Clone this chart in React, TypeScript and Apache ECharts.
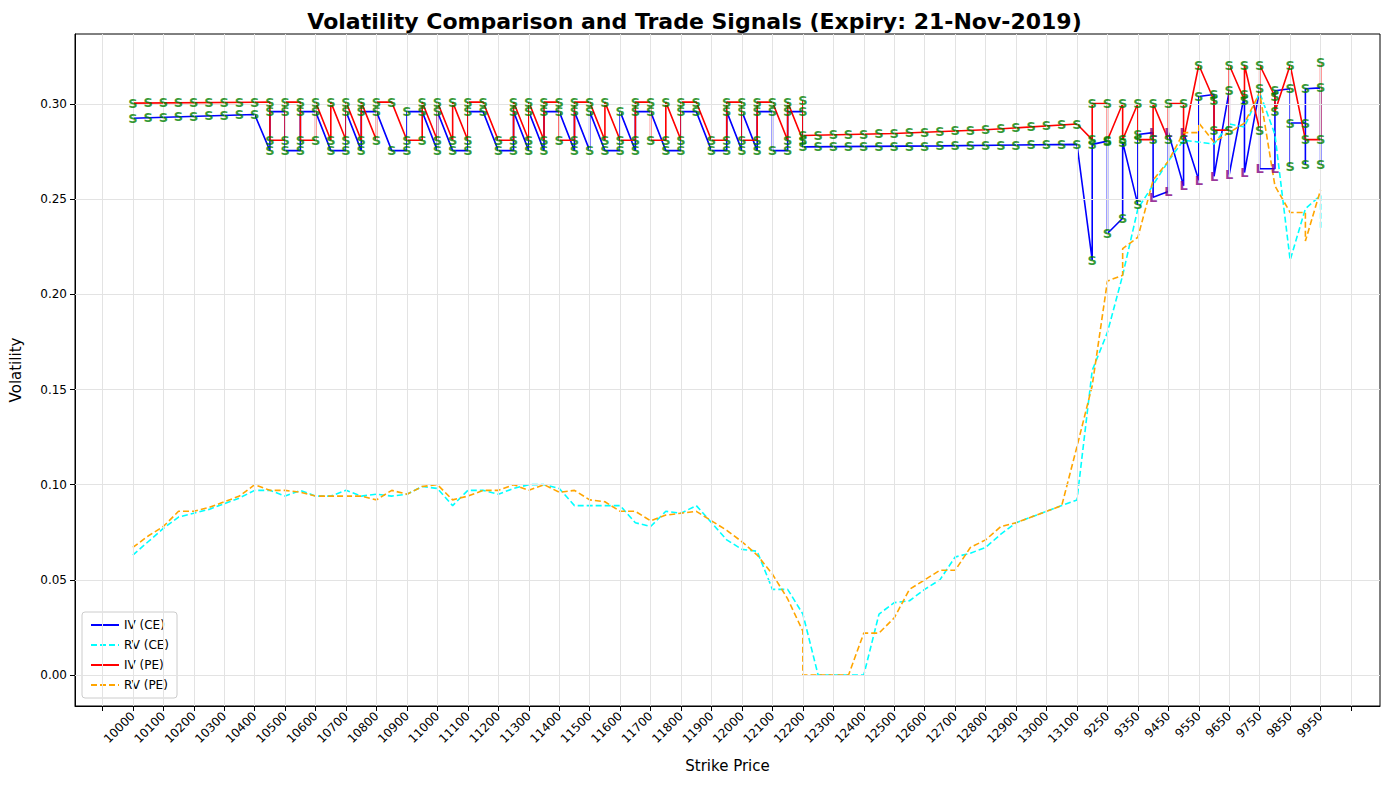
import React, { useEffect, useRef } from "react";
import * as echarts from "echarts";

// strike categories (x positions are their indices)
const strikes: number[] = [];
for (let s = 10000; s <= 13100; s += 50) strikes.push(s);
for (let s = 9200; s <= 9950; s += 50) strikes.push(s);

const labelIdx = [0,2,4,6,8,10,12,14,16,18,20,22,24,26,28,30,32,34,36,38,40,42,44,46,48,50,52,54,56,58,60,62,64,66,68,70,72,74,76,78];
const tickIdx = [-2, ...labelIdx, 80];
const yTicks = [0, 0.05, 0.1, 0.15, 0.2, 0.25, 0.3];

// zigzag region (strike index 9..44): segment shape between index k and k+1
// T = flat high, B = flat low, D = high falling to low
const pe_segs = "BTBDDDDTDBDDDTDBDDTBTDDBTBDTDBTBTDD";
const ce_segs = "TBTDBDTDBTDDBTDBDDTDDDBDTDBTDBDDTBT";
const peHi = 0.301, peLo = 0.281;
const ceHi = 0.296, ceLo = 0.2755;

const peHead: [number, number][] = [[0, 0.3005], [9, 0.301]];
const ceHead: [number, number][] = [[0, 0.2925], [8, 0.2945]];
const peTail: [number, number][] = [[44, 0.302], [44, 0.2835], [50, 0.2845], [56, 0.2865], [62, 0.2895],
  [63, 0.2813], [63, 0.3003], [64, 0.3003], [64, 0.281], [65, 0.3003], [65, 0.2813], [66, 0.3003], [66, 0.2813],
  [67, 0.2813], [67, 0.3003], [68, 0.2813], [68, 0.3003], [69, 0.3003], [69, 0.2813], [70, 0.3205], [71, 0.302],
  [71, 0.2863], [72, 0.2863], [72, 0.3205], [73, 0.302], [73, 0.3205], [74, 0.2863], [74, 0.3205], [75, 0.304],
  [75, 0.296], [76, 0.3205], [77, 0.2813], [78, 0.2813], [78, 0.322]];
const ceTail: [number, number][] = [[44, 0.2775], [53, 0.278], [62, 0.2788],
  [63, 0.218], [63, 0.2788], [64, 0.2805], [64, 0.232], [65, 0.24], [65, 0.28], [66, 0.247], [66, 0.284],
  [67, 0.285], [67, 0.251], [68, 0.254], [68, 0.285], [69, 0.257], [69, 0.285], [70, 0.26], [70, 0.304],
  [71, 0.305], [71, 0.262], [72, 0.307], [72, 0.263], [73, 0.305], [73, 0.264], [74, 0.308], [74, 0.266],
  [75, 0.266], [75, 0.307], [76, 0.308], [76, 0.267], [76, 0.29], [77, 0.29], [77, 0.268], [77, 0.308],
  [78, 0.3085], [78, 0.268]];

const rvCE: [number, number][] = [[0,0.063],[1,0.07],[2,0.077],[3,0.083],[4,0.085],[5,0.087],[6,0.09],[7,0.093],[8,0.097],
  [9,0.097],[10,0.094],[11,0.097],[12,0.094],[13,0.094],[14,0.097],[15,0.094],[16,0.095],[17,0.094],[18,0.095],[19,0.099],
  [20,0.098],[21,0.089],[22,0.097],[23,0.097],[24,0.095],[25,0.098],[26,0.1],[27,0.1],[28,0.098],[29,0.089],[30,0.089],
  [31,0.089],[32,0.089],[33,0.08],[34,0.078],[35,0.086],[36,0.085],[37,0.089],[38,0.08],[39,0.071],[40,0.066],[41,0.065],
  [42,0.045],[43,0.045],[44,0.032],[45,0],[46,0],[47,0],[48,0],[49,0.032],[50,0.038],[51,0.039],[52,0.045],[53,0.05],
  [54,0.062],[55,0.064],[56,0.067],[57,0.074],[58,0.08],[59,0.083],[60,0.086],[61,0.089],[62,0.092],[63,0.16],[64,0.18],
  [65,0.21],[66,0.245],[67,0.2575],[68,0.27],[69,0.281],[70,0.28],[71,0.279],[72,0.2895],[73,0.288],[74,0.306],
  [75,0.284],[76,0.218],[77,0.245],[78,0.252],[78,0.235]];
const rvPE: [number, number][] = [[0,0.067],[1,0.073],[2,0.078],[3,0.086],[4,0.086],[5,0.088],[6,0.091],[7,0.094],[8,0.1],
  [9,0.097],[10,0.097],[11,0.096],[12,0.094],[13,0.094],[14,0.094],[15,0.094],[16,0.092],[17,0.097],[18,0.095],[19,0.099],
  [20,0.1],[21,0.092],[22,0.094],[23,0.097],[24,0.097],[25,0.1],[26,0.097],[27,0.1],[28,0.096],[29,0.097],[30,0.092],
  [31,0.091],[32,0.086],[33,0.086],[34,0.081],[35,0.084],[36,0.085],[37,0.086],[38,0.081],[39,0.076],[40,0.07],[41,0.063],
  [42,0.053],[43,0.04],[44,0.023],[44,0],[45,0],[46,0],[47,0],[48,0.022],[49,0.022],[50,0.03],[51,0.045],[52,0.05],
  [53,0.055],[54,0.055],[55,0.067],[56,0.071],[57,0.078],[58,0.08],[59,0.083],[60,0.086],[61,0.089],[62,0.12],[63,0.152],
  [64,0.207],[65,0.21],[65,0.224],[66,0.23],[67,0.26],[68,0.27],[69,0.285],[70,0.285],[70,0.29],[71,0.28],[72,0.285],
  [73,0.29],[74,0.306],[75,0.257],[76,0.243],[77,0.243],[77,0.228],[78,0.255]];

// strike indices where the CE signal is a long
const ceLongIdx = [67, 68, 69, 70, 71, 72, 73, 74, 75];

function buildZig(head: [number, number][], segs: string, hi: number, lo: number, tail: [number, number][]) {
  const pts: [number, number][] = [...head];
  const isPE = head === peHead;
  for (let k = 9; k <= 44; k++) {
    const prev = k === 9 ? (isPE ? "T" : "D") : segs[k - 10];
    const next = segs[k - 9];
    const entry = prev === "T" ? hi : lo;
    if (!(k === 9 && isPE)) pts.push([k, entry]);
    if (next !== undefined) pts.push([k, next === "B" ? lo : hi]);
  }
  return [...pts, ...tail];
}

const ivPE = buildZig(peHead, pe_segs, peHi, peLo, peTail);
const ivCE = buildZig(ceHead, ce_segs, ceHi, ceLo, ceTail);

// signal anchor positions: every line point at each strike index; where a strike has no
// point, the label sits on the line between neighbours
function anchors(pts: [number, number][]) {
  const out: [number, number][] = [];
  for (let k = 0; k < strikes.length; k++) {
    const at = pts.filter((p) => p[0] === k);
    if (at.length) {
      const seen = new Set<number>();
      at.forEach((p) => { const key = Math.round(p[1] * 1000); if (!seen.has(key)) { seen.add(key); out.push(p); } });
    } else {
      let i = 0;
      while (i < pts.length - 1 && pts[i + 1][0] < k) i++;
      const a = pts[i], b = pts[i + 1];
      out.push([k, a[1] + ((b[1] - a[1]) * (k - a[0])) / (b[0] - a[0])]);
    }
  }
  return out;
}

export default function App() {
  const ref = useRef<HTMLDivElement>(null);
  useEffect(() => {
    const chart = echarts.init(ref.current!, undefined, { renderer: "svg" });
    const font = "DejaVu Sans";
    const sig = (pts: [number, number][], isCE: boolean) =>
      anchors(pts).map(([x, y]) => {
        const isL = isCE && ceLongIdx.includes(x) && y < 0.3;
        return {
          value: [x, y],
          label: { formatter: isL ? "L" : "S", color: isL ? "#800080" : "#008000" },
        };
      });
    const sigSeries = (pts: [number, number][], isCE: boolean) => ({
      type: "scatter",
      data: sig(pts, isCE),
      symbolSize: 1,
      itemStyle: { color: "rgba(0,0,0,0)" },
      label: { show: true, position: "inside", offset: [0, -16], fontSize: 13, fontWeight: "bold", fontFamily: font },
      labelLayout: { hideOverlap: false },
      z: 5,
      silent: true,
    });
    chart.setOption({
      animation: false,
      textStyle: { fontFamily: font },
      title: {
        text: "Volatility Comparison and Trade Signals (Expiry: 21-Nov-2019)",
        left: "center",
        top: 5,
        textStyle: { fontSize: 22, fontWeight: "bold", color: "#000", fontFamily: font },
      },
      grid: { left: 74, right: 9, top: 34, bottom: 84, show: true, borderColor: "#000", borderWidth: 1, backgroundColor: "transparent" },
      legend: {
        orient: "vertical",
        left: 82,
        bottom: 92,
        backgroundColor: "#fff",
        borderColor: "#ccc",
        borderWidth: 1,
        borderRadius: 3,
        padding: [7, 8],
        itemGap: 8,
        itemWidth: 28,
        itemHeight: 10,
        itemStyle: { opacity: 0 },
        textStyle: { fontSize: 12, color: "#000", fontFamily: font },
        data: ["IV (CE)", "RV (CE)", "IV (PE)", "RV (PE)"],
      },
      xAxis: {
        type: "value",
        min: -3.8,
        max: 81.9,
        name: "Strike Price",
        nameLocation: "middle",
        nameGap: 52,
        nameTextStyle: { fontSize: 15, color: "#000", fontFamily: font },
        axisLine: { onZero: false, lineStyle: { color: "#000" } },
        axisTick: { show: true, customValues: tickIdx, lineStyle: { color: "#000" } },
        axisLabel: {
          customValues: labelIdx,
          rotate: 45,
          fontSize: 12,
          color: "#000",
          fontFamily: font,
          formatter: (v: number) => String(strikes[Math.round(v)] ?? ""),
        },
        splitLine: { show: false },
      },
      yAxis: {
        type: "value",
        min: -0.0163,
        max: 0.3368,
        name: "Volatility",
        nameLocation: "middle",
        nameGap: 52,
        nameTextStyle: { fontSize: 15, color: "#000", fontFamily: font },
        axisLine: { show: true, onZero: false, lineStyle: { color: "#000" } },
        axisTick: { show: true, customValues: yTicks, lineStyle: { color: "#000" } },
        axisLabel: {
          customValues: yTicks,
          fontSize: 12,
          color: "#000",
          fontFamily: font,
          formatter: (v: number) => v.toFixed(2),
        },
        splitLine: { show: false },
      },
      series: [
        {
          name: "grid",
          type: "line",
          data: [],
          silent: true,
          z: 0,
          markLine: {
            silent: true,
            symbol: "none",
            label: { show: false },
            lineStyle: { color: "#e3e3e3", type: "solid", width: 1 },
            data: [...tickIdx.map((x) => ({ xAxis: x })), ...yTicks.map((y) => ({ yAxis: y }))],
          },
        },
        { name: "IV (CE)", type: "line", data: ivCE, symbol: "none", lineStyle: { color: "#0000ff", width: 1.6 }, itemStyle: { color: "#0000ff" } },
        { name: "RV (CE)", type: "line", data: rvCE, symbol: "none", lineStyle: { color: "#00ffff", width: 1.6, type: [6, 3] }, itemStyle: { color: "#00ffff" } },
        { name: "IV (PE)", type: "line", data: ivPE, symbol: "none", lineStyle: { color: "#ff0000", width: 1.6 }, itemStyle: { color: "#ff0000" } },
        { name: "RV (PE)", type: "line", data: rvPE, symbol: "none", lineStyle: { color: "#ffa500", width: 1.6, type: [6, 3] }, itemStyle: { color: "#ffa500" } },
        sigSeries(ivCE, true),
        sigSeries(ivPE, false),
      ],
    });
    return () => chart.dispose();
  }, []);
  return <div ref={ref} style={{ position: "fixed", left: 0, top: 0, width: 1389, height: 790, background: "#fff" }} />;
}
